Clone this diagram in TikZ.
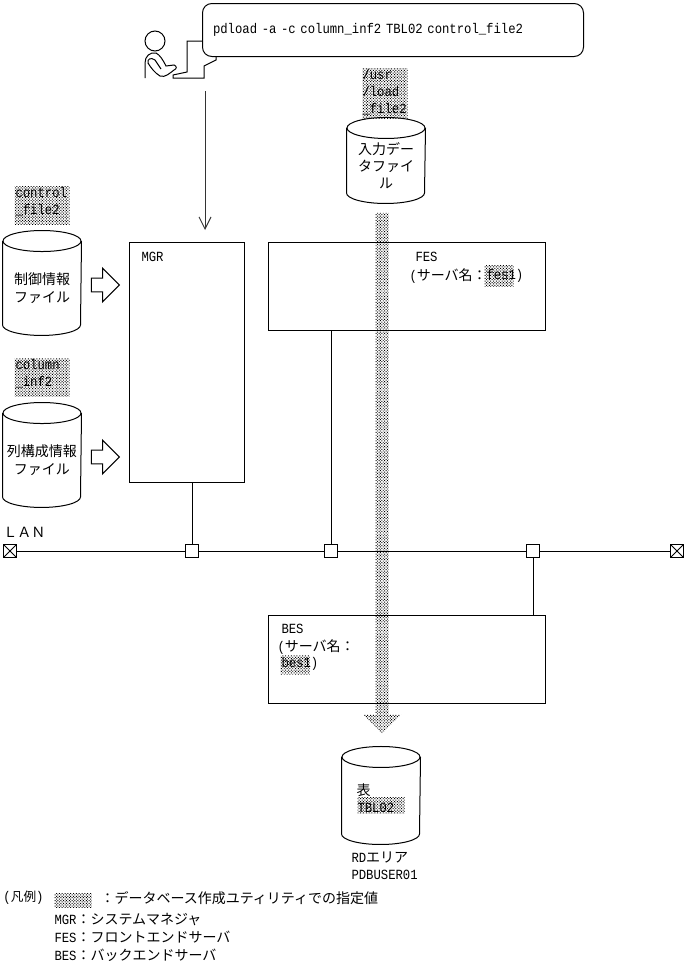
\documentclass[tikz,border=0pt]{standalone}
\usepackage{fontspec}
\setmainfont{Noto Sans CJK JP}
\newfontfamily\latn[FakeStretch=0.875]{Liberation Mono}
\usepackage{xcolor}
\usetikzlibrary{shapes.geometric, shapes.arrows, arrows.meta, positioning, patterns.meta}
\newcommand{\dbcan}[1]{%
  \draw (#1.north) ellipse [x radius=39, y radius=10.5];
  \draw (#1.north west) -- ([yshift=7.9pt]#1.south west)
    arc [start angle=180, end angle=0, x radius=39, y radius=10.5] -- (#1.north east);}

\begin{document}
\begin{tikzpicture}[x=0.75pt, y=-0.75pt, line width=0.75pt, font=\fontsize{10.5pt}{13pt}\selectfont,
  hatch/.style={pattern={Dots[distance=1.5pt, radius=0.52pt, angle=45]}, pattern color=black},
  hatchbox/.style={hatch, inner sep=0pt, align=left, anchor=north west, font=\fontsize{10.5pt}{13.5pt}\latn},
  label/.style={inner sep=0pt, anchor=west, font=\fontsize{10.5pt}{13pt}\latn},
  stacklabel/.style={inner sep=0pt, anchor=north west, align=left, font=\fontsize{10.5pt}{12.6pt}\latn},
  server/.style={draw, inner sep=0pt, anchor=north west},
  database/.style={inner sep=0pt, minimum width=58.5pt, minimum height=#1, align=center},
  inputarrow/.style={draw, fill=white, single arrow, single arrow head extend=7.5pt, inner sep=0pt,
    text height=9.5pt, text depth=0pt, text width=0pt, minimum height=21pt},
  junction/.style={draw, fill=white, inner sep=0pt, minimum size=9.75pt},
  lanend/.style={junction, path picture={
    \draw (path picture bounding box.north west) -- (path picture bounding box.south east);
    \draw (path picture bounding box.north east) -- (path picture bounding box.south west);}},
  arrow/.style={-{Straight Barb[length=9pt, width=9pt]}, draw=black!80}]
  \useasboundingbox (0,0) rectangle (687,967);

  % user and prompt
  \node[draw, circle, inner sep=0pt, minimum size=15pt] (head) at (155,41) {};
  \draw (145,78) -- (145,63) .. controls (145,56) and (150,52) .. (156,53)
    .. controls (160,55) and (163,60) .. (166,66) -- (174,65)
    .. controls (177,66) and (177,69) .. (174,70) .. controls (170,73) and (165,78) .. (160,76)
    .. controls (155,73) and (151,68) .. (148,63) .. controls (147,59) and (151,57) .. (155,60)
    -- (161,69);
  \draw (202,41) -- (187,41) -- (187,72) -- (173,75) -- (173,78) -- (204,78) -- (204,66) -- (216,60) -- (216,56);
  \node[draw, rounded corners=7pt, anchor=north west, minimum width=285.75pt, minimum height=39.75pt,
    inner sep=0pt, text width=270pt, fill=white, font=\fontsize{10.5pt}{13pt}\latn] (cmd) at (202,3)
    {pdload -a -c column\_inf2 TBL02 control\_file2};
  \coordinate (cmdend) at (205,91);

  % input files
  \node[hatchbox, minimum width=33.75pt, minimum height=37.5pt] (pathlbl) at (362,68) {};
  \node[stacklabel] at (362,69) {/usr\\/load\\\_file2};
  \node[database=55.9pt] (indata) at (386,165.75) {入力デー\\タファイ\\ル};
  \dbcan{indata}

  \node[hatchbox, minimum width=41.25pt, minimum height=28.5pt] (ctllbl) at (14,186) {};
  \node[stacklabel] at (15,187) {control\\\_file2};
  \node[database=70.1pt] (ctl) at (42,288.25) {制御情報\\ファイル};
  \dbcan{ctl}

  \node[hatchbox, minimum width=41.25pt, minimum height=28.5pt] (collbl) at (14,358) {};
  \node[stacklabel] at (15,359) {column\\\_inf2};
  \node[database=70.1pt] (col) at (42,460.25) {列構成情報\\ファイル};
  \dbcan{col}

  \node[inputarrow] (ctlarrow) at (102,285) {};
  \node[inputarrow] (colarrow) at (102,457) {};

  % servers
  \node[server, minimum width=86.25pt, minimum height=180pt] (mgr) at (129,242) {};
  \node[label] at (141,257) {MGR};
  \node[server, minimum width=207.75pt, minimum height=66pt] (fes) at (268,242) {};
  \node[label] at (415,257) {FES};
  \node[hatchbox, minimum width=21.75pt, minimum height=15.75pt] (feslbl) at (484,265) {};
  \node[label] at (409,276) {(\rmfamily サーバ名：};
  \node[label] at (486,276) {fes1)};
  \node[server, minimum width=207.75pt, minimum height=66pt] (bes) at (268,615) {};
  \node[label] at (281,629) {BES};
  \node[label] at (277,647) {(\rmfamily サーバ名：};
  \node[hatchbox, minimum width=21.75pt, minimum height=14.25pt] (beslbl) at (280,655) {};
  \node[label] at (281,664) {bes1)};

  % LAN
  \node[inner sep=0pt, anchor=west] at (3,532) {ＬＡＮ};
  \node[lanend] (lanleft) at (10,551) {};
  \node[lanend] (lanright) at (677,551) {};
  \node[junction] (jmgr) at (192,551) {};
  \node[junction] (jfes) at (331,551) {};
  \node[junction] (jbes) at (533,551) {};
  \draw (lanleft) -- (jmgr);
  \draw (jmgr) -- (jfes);
  \draw (jfes) -- (jbes);
  \draw (jbes) -- (lanright);
  \draw (jmgr |- mgr.south) -- (jmgr);
  \draw (jfes |- fes.south) -- (jfes);
  \draw (jbes) -- (jbes |- bes.north);

  \coordinate (mgrtop) at (205,230);
  \draw[arrow] (cmdend) -- (mgrtop);

  % table
  \node[database=64.9pt] (tbl) at (381,800.75) {};
  \dbcan{tbl}
  \node[hatchbox, minimum width=35.25pt, minimum height=12pt] (tbllbl) at (357,797) {};
  \node[inner sep=0pt, anchor=west] at (356,790) {表};
  \node[label] at (357,808) {TBL02};
  \node[label] at (351,857) {RD\rmfamily エリア};
  \node[label] at (351,875) {PDBUSER01};

  % data flow
  \node[hatch, single arrow, rotate=-90, single arrow head extend=9.4pt, inner sep=0pt,
    text height=9pt, text depth=0pt, text width=0pt, minimum height=390.75pt] (flow) at (382,470) {};

  % legend
  \node[label] at (3,898) {({\fontsize{9.5pt}{13pt}\rmfamily 凡例})};
  \node[hatchbox, minimum width=27.75pt, minimum height=10.5pt] (keylbl) at (54,893) {};
  \node[inner sep=0pt, anchor=west] at (100,898) {：データベース作成ユティリティでの指定値};
  \node[label] at (54,920) {MGR\rmfamily：システムマネジャ};
  \node[label] at (54,937) {FES\rmfamily：フロントエンドサーバ};
  \node[label] at (54,955) {BES\rmfamily：バックエンドサーバ};
\end{tikzpicture}
\end{document}
